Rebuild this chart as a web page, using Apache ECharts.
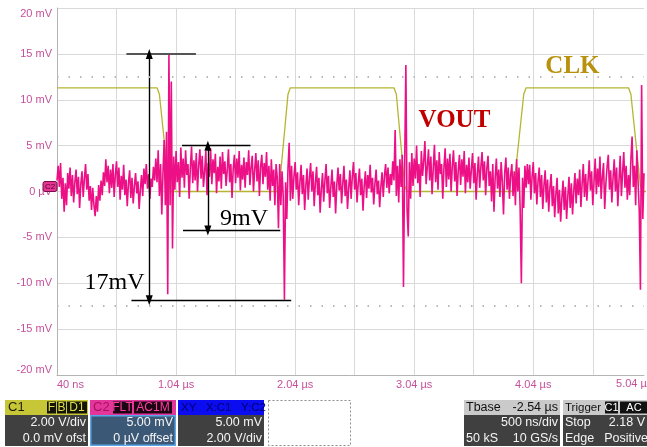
<!DOCTYPE html>
<html><head><meta charset="utf-8">
<script src="https://cdn.jsdelivr.net/npm/echarts@6/dist/echarts.min.js"></script>
<style>html,body{margin:0;padding:0;background:#fff;}#c{width:647px;height:447px;}</style>
</head><body><div id="c"></div>
<script>
// ---- axis ticks ----
const xOffsetUs = 0.04;                // left edge of the screen (µs)
const xVisibleEndUs = 4.97;            // right edge of the screen (µs)
const xTickLabels = ['40 ns', '1.04 µs', '2.04 µs', '3.04 µs', '4.04 µs', '5.04 µs'];
const yTickValues = [-20, -15, -10, -5, 0, 5, 10, 15, 20];
const yTickLabels = ['-20 mV', '-15 mV', '-10 mV', '-5 mV', '0 µV', '5 mV', '10 mV', '15 mV', '20 mV'];

// ---- CLK trace (µs, mV on screen) ----
const clkTimes = [0.04, 0.88, 0.90, 0.98, 1.00, 1.89, 1.91, 1.98, 2.00, 2.87, 2.89, 2.96, 2.98, 3.86, 3.88, 3.96, 3.98, 4.84, 4.86, 4.94, 4.96, 5.04];
const clkMv    = [11.3, 11.3, 10.6, 0.6, 0.0, 0.0, 0.8, 10.6, 11.3, 11.3, 10.6, 0.6, 0.0, 0.0, 0.8, 10.6, 11.3, 11.3, 10.6, 0.6, 0.0, 0.0];

// ---- VOUT trace: samples every 10 ns from 40 ns ----
const voutStartUs = 0.04;
const voutStepUs = 0.01;
const voutMv = [
  // 0.04 - 0.87
  1.2, 2.8, 0.5, 3.1, -0.8, 1.5, -2.2, 0.9, -1.5, 2.0,
  0.3, 2.6, -0.5, 1.8, -1.2, 1.0, 2.4, -0.3, 1.6, -1.8,
  0.8, 2.2, -0.6, 1.4, 3.0, 0.2, 1.9, -1.0, 0.6, -2.0,
  0.4, -1.4, -2.7, -0.5, -2.2, 0.7, -1.0, 1.2, -0.4, 2.1,
  0.6, 3.5, 1.0, 2.8, -0.2, 2.4, 0.4, 3.0, -0.6, 1.8,
  3.3, 0.5, 2.6, -0.9, 1.7, 0.2, 2.9, -0.4, 1.3, -1.6,
  0.9, 2.3, -0.7, 1.5, -1.3, 0.6, 2.0, -0.2, 1.1, -1.9,
  0.2, 1.8, -0.5, 2.5, 0.8, 3.0, 0.3, 1.9, -0.8, 1.4,
  0.5, 2.7, 1.2, 3.6,
  // 0.88 - 1.01 (CLK falling edge)
  1.0, 4.5, -0.5, 3.0, -2.5, 2.0, 5.6, -1.5, 6.5, -11.2, 15.0, -1.5, 12.0, -6.2,
  // 1.02 - 1.88
  3.8, 0.2, 4.4, 1.0, 3.2, -0.6, 4.8, 1.5, 3.6, 0.4,
  4.5, 1.8, 3.0, -0.8, 2.6, 4.9, 0.9, 3.4, 1.2, 4.2,
  0.0, 2.8, 4.6, 1.4, 3.9, 0.5, 2.2, 4.4, -0.4, 3.1,
  1.6, 4.7, 0.8, 3.5, 2.0, 4.1, -0.2, 2.7, 1.1, 3.8,
  0.3, 4.3, 1.9, 3.3, 0.6, 2.4, 4.6, 1.0, 3.0, -0.7,
  2.5, 4.0, 0.9, 3.6, 1.5, 4.4, 0.1, 2.9, 1.3, 3.7,
  0.4, 3.2, 1.8, 4.5, 0.7, 2.6, 3.9, 0.0, 2.3, 4.2,
  1.1, 3.4, -0.5, 2.7, 4.0, 0.8, 3.1, 1.6, 4.3, 0.2,
  2.8, -1.0, 3.5, 0.6, 2.4, -1.5, 3.0,
  // 1.89 - 2.00 (CLK rising edge)
  1.5, -4.0, 3.0, -1.5, 2.2, -0.5, -11.8, 1.0, -3.0, 2.5, 5.3, -1.0,
  // 2.01 - 2.86
  2.8, -0.8, 1.6, 3.2, 0.2, 2.1, -1.5, 1.0, 2.9, -0.3,
  1.8, -2.0, 0.6, 2.5, -0.9, 1.4, 3.1, 0.0, 2.2, -1.6,
  0.9, 2.7, -0.4, 1.5, -2.3, 0.3, 2.0, -1.1, 1.2, 3.0,
  -0.2, 1.7, -1.8, 0.5, 2.4, -0.6, 1.1, -2.4, 0.7, 2.6,
  0.1, 1.9, -1.3, 0.8, 2.8, -0.5, 1.3, -1.9, 0.4, 2.3,
  -0.8, 1.6, 3.2, 0.2, 2.0, -1.2, 0.9, 2.5, -0.4, 1.4,
  -2.1, 0.6, 2.2, -0.7, 1.8, 0.3, 2.9, -0.1, 1.5, -1.4,
  0.8, 2.4, -0.3, 1.2, -1.7, 0.5, 2.1, -0.6, 1.7, 3.0,
  0.4, 2.6, -0.2, 1.9, 0.7, 3.3,
  // 2.87 - 3.01 (CLK falling edge)
  1.2, 6.7, -0.5, 2.8, -1.2, 3.5, 0.5, 4.0, -10.4, 3.0, 13.8, -2.0, -4.9, 3.2, -0.8,
  // 3.02 - 3.85
  4.2, 0.6, 3.6, 1.4, 5.0, 0.9, 3.0, -0.6, 4.4, 1.7,
  3.3, 5.5, 0.8, 2.7, 4.6, 1.2, 3.8, -0.3, 2.5, 5.1,
  1.0, 3.4, 0.2, 4.3, 1.9, 3.0, -0.8, 2.6, 4.7, 0.5,
  3.6, 1.3, 4.1, 0.0, 2.8, 4.5, 1.1, 3.2, -0.5, 2.3,
  4.0, 0.7, 3.5, 1.6, 4.4, -0.2, 2.9, 1.0, 3.7, 0.3,
  2.4, 4.2, 0.9, 3.1, -0.9, 2.0, 3.8, 0.4, 2.7, 4.3,
  1.2, 3.3, -0.4, 2.5, 3.9, 0.6, 2.2, -1.1, 3.0, -2.2,
  1.5, 3.6, 0.3, 2.4, -0.6, 3.2, 1.1, -2.5, 2.0, 3.7,
  0.2, 2.6, -0.8, 1.8,
  // 3.86 - 3.99 (CLK rising edge)
  3.0, -0.5, 2.2, -1.5, 3.5, 0.0, 2.6, -2.0, -10.0, 1.5, -1.8, 2.8, 0.4, 3.0,
  // 4.00 - 4.83
  0.8, 2.9, -0.9, 1.6, 3.2, -0.2, 2.0, -1.4, 1.1, 2.6,
  -0.6, 1.8, -1.9, 0.7, 2.3, -1.2, 1.3, -2.2, 0.4, 1.9,
  -1.6, 0.6, -2.8, -0.3, 1.5, -2.4, 0.2, -3.3, -0.8, 1.2,
  -2.0, 0.5, -3.0, -0.6, 1.6, -1.8, 0.9, -2.5, 0.0, 2.0,
  -1.3, 1.4, -0.4, 2.4, -1.7, 0.8, 3.0, -0.6, 1.9, -1.0,
  1.2, 3.4, 0.1, 2.2, -1.5, 1.0, 3.6, -0.3, 2.5, 0.5,
  3.8, -0.8, 1.6, 3.1, -1.9, 0.9, 2.7, 4.0, 0.2, 2.3,
  -1.2, 1.5, 3.5, 0.0, 2.6, -1.6, 1.2, 3.9, -0.5, 2.0,
  4.3, 0.4, 2.8, -0.9,
  // 4.84 - 4.97 (CLK falling edge)
  1.8, -0.4, 3.5, 6.0, 0.5, 2.8, -1.5, 4.5, 1.0, -2.0, -10.7, 11.6, -3.0, 2.0
];

// ---- measurement annotations (µs, mV) ----
const hLineSpans = [[0.623, 1.207, 15.0], [0.665, 2.007, -11.85], [1.09, 1.665, 5.0], [1.098, 1.915, -4.24]];
const arrowSpans = [[0.815, 15.0, -11.85], [1.307, 5.0, -4.24]];
const dottedLevels = [12.5, -12.5];
const annoTexts = [['17mV', 0.523, -9.9], ['9mV', 1.611, -2.93]];
const traceNames = [['VOUT', 3.378, 7.7], ['CLK', 4.369, 13.6]];

const chart = echarts.init(document.getElementById('c'), null, {renderer: 'canvas'});
const X = t => +(t - xOffsetUs).toFixed(4);

const clkData = clkTimes.map((t, i) => [X(t), clkMv[i]]);
const voutData = voutMv.map((v, i) => [X(voutStartUs + i * voutStepUs), v]);

const markLines = [];
hLineSpans.forEach((s, i) => markLines.push([
  {coord: [X(s[0]), s[2]], lineStyle: {color: i === 0 ? '#555' : '#000', width: i === 0 ? 2 : 1.4, type: 'solid'}},
  {coord: [X(s[1]), s[2]]}
]));
arrowSpans.forEach(s => markLines.push([
  {coord: [X(s[0]), s[1]], symbol: 'triangle', symbolSize: [7, 10], lineStyle: {color: '#000', width: 1.4, type: 'solid'}},
  {coord: [X(s[0]), s[2]], symbol: 'triangle', symbolSize: [7, 10]}
]));
dottedLevels.forEach(v => markLines.push({yAxis: v, lineStyle: {color: '#b8b8b8', width: 2, type: [1.5, 10]}}));

const lblColor = '#c4509a';
chart.setOption({
  animation: false,
  backgroundColor: '#fff',
  grid: {left: 57, top: 8, right: 0, bottom: 72, show: false, containLabel: false},
  xAxis: {
    type: 'value', min: 0, max: X(xVisibleEndUs), interval: 0.5,
    axisLine: {show: true, onZero: false, lineStyle: {color: '#b4b4b4', width: 1}}, axisTick: {show: false},
    splitLine: {show: true, showMaxLine: false, lineStyle: {color: '#d9d9d9', width: 1}},
    axisLabel: {
      color: lblColor, fontSize: 11, fontFamily: 'Liberation Sans', margin: 4,
      alignMinLabel: 'left',
      formatter: v => (Math.abs(v - Math.round(v)) < 1e-6 ? (xTickLabels[Math.round(v)] || '') : '')
    }
  },
  yAxis: {
    type: 'value', min: -20, max: 20, interval: 5,
    axisLine: {show: true, onZero: false, lineStyle: {color: '#b4b4b4', width: 1}}, axisTick: {show: false},
    splitLine: {show: true, lineStyle: {color: '#d9d9d9', width: 1}},
    axisLabel: {
      color: lblColor, fontSize: 11, fontFamily: 'Liberation Sans', margin: 5,
      verticalAlignMinLabel: 'bottom', verticalAlignMaxLabel: 'top',
      formatter: v => { const k = yTickValues.indexOf(Math.round(v)); return k >= 0 ? yTickLabels[k] : ''; }
    }
  },
  series: [
    {
      name: 'CLK', type: 'line', data: clkData, showSymbol: false, symbol: 'none',
      lineStyle: {color: '#b5b532', width: 1.3}, z: 2,
      markLine: {silent: true, animation: false, symbol: ['none', 'none'], label: {show: false}, data: markLines, z: 6}
    },
    {
      name: 'VOUT', type: 'line', data: voutData, showSymbol: false, symbol: 'none',
      lineStyle: {color: '#ec0f86', width: 1.6}, z: 3
    }
  ]
});

// ---- text annotations and instrument panel ----
const G = [];
const px = (t, v) => chart.convertToPixel({gridIndex: 0}, [X(t), v]);
// last time label sits past the right edge of the screen (clipped, as on the scope)
const lastTick = px(5.04, -20);
G.push({type: 'text', x: lastTick[0], y: lastTick[1] + 9, z: 20, style: {text: xTickLabels[5], fill: lblColor, font: '11px "Liberation Sans"', align: 'right', verticalAlign: 'middle', textAlign: 'right', textVerticalAlign: 'middle'}});
annoTexts.forEach(a => { const p = px(a[1], a[2]);
  G.push({type: 'text', x: p[0], y: p[1], z: 20, style: {text: a[0], fill: '#000', font: '24px "Liberation Serif"', align: 'center', verticalAlign: 'middle', textAlign: 'center', textVerticalAlign: 'middle'}}); });
traceNames.forEach((a, i) => { const p = px(a[1], a[2]);
  G.push({type: 'text', x: p[0], y: p[1], z: 20, style: {text: a[0], fill: i === 0 ? '#c00000' : '#b8920e', font: 'bold 25px "Liberation Serif"', align: 'center', verticalAlign: 'middle', textAlign: 'center', textVerticalAlign: 'middle'}}); });

// channel marker at 0 level
const z0 = px(0.04, 0);
G.push({type: 'rect', z: 20, shape: {x: 43, y: z0[1] - 10, width: 14, height: 10, r: 2}, style: {fill: '#e33592', stroke: '#7a0a48', lineWidth: 1}});
G.push({type: 'text', z: 21, x: 50, y: z0[1] - 5, style: {text: 'C2', fill: '#5a0030', font: '8px "Liberation Sans"', align: 'center', verticalAlign: 'middle', textAlign: 'center', textVerticalAlign: 'middle'}});

function rect(x, y, w, h, fill, stroke, lw, dash) {
  G.push({type: 'rect', z: 30, shape: {x, y, width: w, height: h}, style: {fill: fill || 'none', stroke: stroke || 'none', lineWidth: lw || 0, lineDash: dash || null}});
}
function txt(x, y, s, color, align, size) {
  G.push({type: 'text', z: 31, x, y, style: {text: s, fill: color, font: (size || 12.5) + 'px "Liberation Sans"', align, verticalAlign: 'middle', textAlign: align, textVerticalAlign: 'middle'}});
}
const HT = 400, HH = 15, BT = 415, BH = 31, L1 = 423, L2 = 438.5, HC = 407.5;
const bodyFill = '#404040', bodyText = '#f4f4f4';
// C1
rect(5, HT, 83, HH, '#c6c637'); rect(5, BT, 83, BH, bodyFill);
txt(8, HC, 'C1', '#1e1e00', 'left', 13);
[[47, 9, 'F'], [57, 9, 'B'], [67, 20, 'D1']].forEach(b => { rect(b[0], HT + 1.5, b[1], HH - 3, '#141408'); txt(b[0] + b[1] / 2, HC, b[2], '#dede4a', 'center', 12); });
txt(86, L1, '2.00 V/div', bodyText, 'right'); txt(86, L2, '0.0 mV ofst', bodyText, 'right');
// C2
rect(90, HT, 86, HH, '#e4369a'); rect(90.75, BT + 0.75, 84.5, BH - 1.5, '#3b5977', '#5aa6e6', 1.5);
txt(93, HC, 'C2', '#a8105e', 'left', 13);
[[113, 19, 'FLT'], [134, 38, 'AC1M']].forEach(b => { rect(b[0], HT + 1.5, b[1], HH - 3, '#1c0412'); txt(b[0] + b[1] / 2, HC, b[2], '#ff3ea2', 'center', 12); });
txt(173, L1, '5.00 mV', bodyText, 'right'); txt(173, L2, '0 µV offset', bodyText, 'right');
// XY
rect(178, HT, 86, HH, '#0c0cf0'); rect(178, BT, 86, BH, bodyFill);
txt(181, HC, 'XY   X:C1   Y:C2', '#000070', 'left', 11.5);
txt(262, L1, '5.00 mV', bodyText, 'right'); txt(262, L2, '2.00 V/div', bodyText, 'right');
// empty slot
rect(268.5, HT + 0.5, 82, 45, 'none', '#8c8c8c', 1, [2, 2]);
// Tbase
rect(464, HT, 96, HH, '#cacaca'); rect(464, BT, 96, BH, bodyFill);
txt(466, HC, 'Tbase', '#111', 'left', 12.5); txt(558, HC, '-2.54 µs', '#111', 'right', 12.5);
txt(558, L1, '500 ns/div', bodyText, 'right');
txt(466, L2, '50 kS', bodyText, 'left'); txt(558, L2, '10 GS/s', bodyText, 'right');
// Trigger
rect(563, HT, 90, HH, '#cacaca'); rect(563, BT, 90, BH, bodyFill);
txt(565, HC, 'Trigger', '#111', 'left', 11.5);
[[605, 13, 'C1'], [620, 28, 'AC']].forEach(b => { rect(b[0], HT + 1.5, b[1], HH - 3, '#111'); txt(b[0] + b[1] / 2, HC, b[2], '#fff', 'center', 11); });
txt(565, L1, 'Stop', bodyText, 'left'); txt(645, L1, '2.18 V', bodyText, 'right');
txt(565, L2, 'Edge', bodyText, 'left'); txt(648, L2, 'Positive', bodyText, 'right');

chart.setOption({graphic: {elements: G}});
</script>
</body></html>
